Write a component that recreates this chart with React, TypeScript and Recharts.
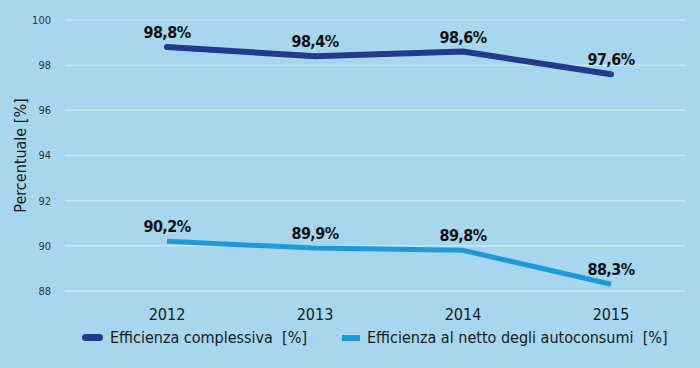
import { LineChart, Line, XAxis, YAxis, CartesianGrid, LabelList } from "recharts";

const years = ["2012", "2013", "2014", "2015"];
const complessiva = [98.8, 98.4, 98.6, 97.6];
const netto = [90.2, 89.9, 89.8, 88.3];
const yTicks = [88, 90, 92, 94, 96, 98, 100];

const data = years.map((year, i) => ({ year, complessiva: complessiva[i], netto: netto[i] }));

const FONT = "'DejaVu Sans Condensed', 'DejaVu Sans', sans-serif";
const DARK = "#233a8c";
const LIGHT = "#1f9ad8";

function fmt(v: number) {
  return `${v.toFixed(1).replace(".", ",")}%`;
}

const labelStyle = { fontSize: 16, fontWeight: 700, fill: "#111", fontFamily: FONT, letterSpacing: -0.6 };

export default function App() {
  return (
    <div style={{ position: "fixed", top: 0, left: 0, width: 700, height: 368, background: "#a6d7ee", fontFamily: FONT, fontStretch: "condensed" }}>
      <LineChart width={700} height={368} data={data} margin={{ top: 20, right: 15, left: 0, bottom: 0 }}>
        <CartesianGrid vertical={false} stroke="#c9e5f2" strokeWidth={1.5} />
        <XAxis
          dataKey="year"
          type="category"
          scale="point"
          padding={{ left: 102, right: 74 }}
          axisLine={false}
          tickLine={false}
          height={77}
          tickMargin={12}
          tick={{ fontSize: 16, fill: "#1a1a1a", fontFamily: FONT }}
        />
        <YAxis
          domain={[88, 100]}
          ticks={yTicks}
          width={65}
          axisLine={false}
          tickLine={false}
          tickMargin={8}
          tick={{ fontSize: 11, fill: "#333", fontFamily: FONT }}
          label={{ value: "Percentuale [%]", angle: -90, position: "insideLeft", offset: 20, style: { fontSize: 16, fill: "#1a1a1a", fontFamily: FONT, textAnchor: "middle" } }}
        />
        <Line dataKey="complessiva" stroke={DARK} strokeWidth={6} strokeLinecap="round" dot={false} isAnimationActive={false}>
          <LabelList dataKey="complessiva" position="top" offset={9} formatter={(v: number) => fmt(v)} style={labelStyle} />
        </Line>
        <Line dataKey="netto" stroke={LIGHT} strokeWidth={5} dot={false} isAnimationActive={false}>
          <LabelList dataKey="netto" position="top" offset={9} formatter={(v: number) => fmt(v)} style={labelStyle} />
        </Line>
      </LineChart>
      <div style={{ position: "absolute", top: 328, left: 82, display: "flex", alignItems: "center", fontSize: 16, color: "#1a1a1a", whiteSpace: "pre" }}>
        <span style={{ display: "inline-block", width: 21, height: 7, borderRadius: 4, background: DARK, marginRight: 7 }} />
        <span>Efficienza complessiva  [%]</span>
        <span style={{ display: "inline-block", width: 18, height: 6, background: LIGHT, marginLeft: 35, marginRight: 7 }} />
        <span>Efficienza al netto degli autoconsumi  [%]</span>
      </div>
    </div>
  );
}
